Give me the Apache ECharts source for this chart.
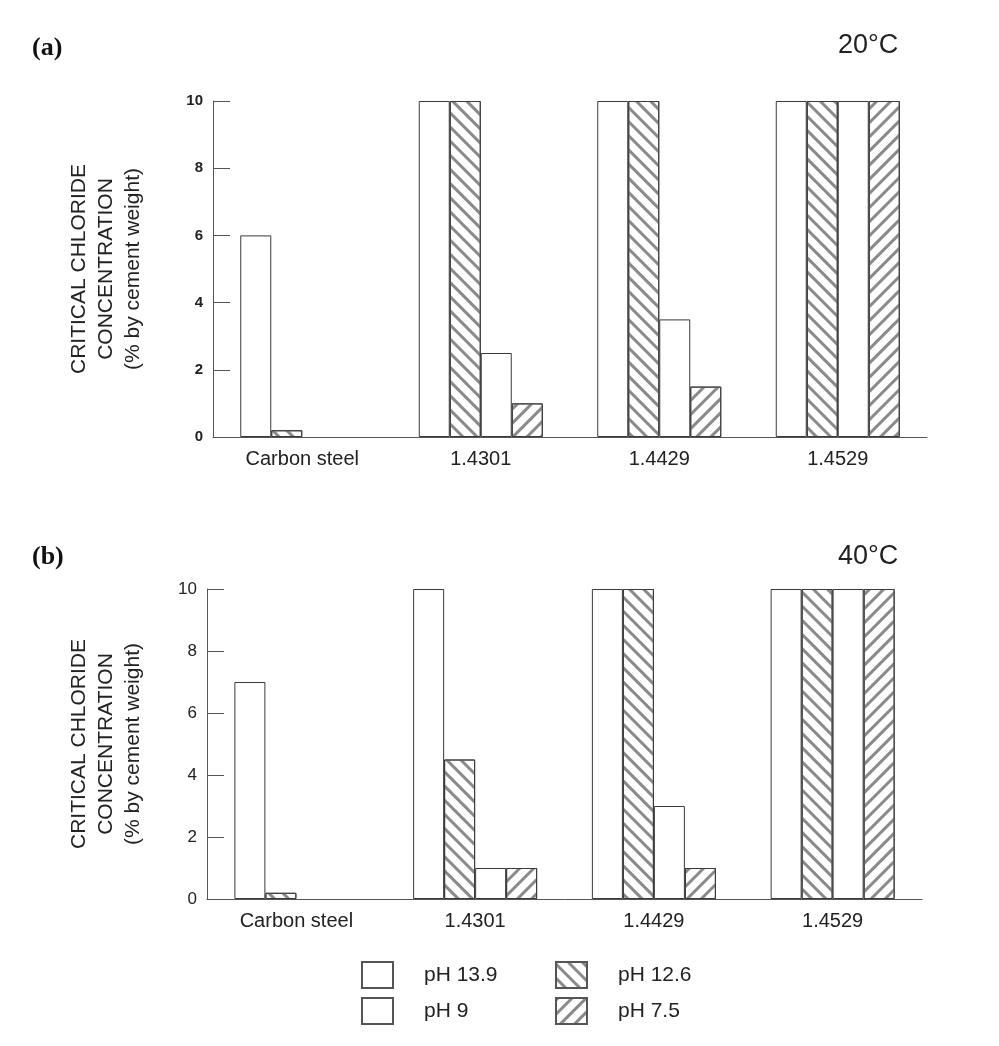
<!DOCTYPE html>
<html>
<head>
<meta charset="utf-8">
<script src="https://cdn.jsdelivr.net/npm/echarts@6/dist/echarts.min.js"></script>
<style>html,body{margin:0;padding:0;background:#fff;}#c{width:999px;height:1046px;}</style>
</head>
<body>
<div id="c"></div>
<script>
const categories = ['Carbon steel', '1.4301', '1.4429', '1.4529'];
const seriesNames = ['pH 13.9', 'pH 12.6', 'pH 9', 'pH 7.5'];
const yTicks = [0, 2, 4, 6, 8, 10];
// (a) 20°C
const a_pH139 = [6, 10, 10, 10];
const a_pH126 = [0.2, 10, 10, 10];
const a_pH9 = [null, 2.5, 3.5, 10];
const a_pH75 = [null, 1, 1.5, 10];
// (b) 40°C
const b_pH139 = [7, 10, 10, 10];
const b_pH126 = [0.2, 4.5, 10, 10];
const b_pH9 = [null, 1, 3, 10];
const b_pH75 = [null, 1, 1, 10];

const yTitle = 'CRITICAL CHLORIDE\nCONCENTRATION\n(% by cement weight)';
const font = '"Liberation Sans", Arial, sans-serif';

const decals = [
  null,
  {symbol: 'rect', symbolSize: 1, dashArrayX: [1, 0], dashArrayY: [2.2, 6.3], rotation: Math.PI / 4, color: '#8a8a8a'},
  null,
  {symbol: 'rect', symbolSize: 1, dashArrayX: [1, 0], dashArrayY: [2.2, 6.3], rotation: -Math.PI / 4, color: '#8a8a8a'}
];

function makeSeries(gridIdx, arrs) {
  return arrs.map((d, i) => ({
    type: 'bar',
    name: seriesNames[i],
    xAxisIndex: gridIdx,
    yAxisIndex: gridIdx,
    data: d,
    barWidth: 31,
    barGap: '0%',
    itemStyle: Object.assign({color: '#fff', borderColor: '#3a3a3a', borderWidth: 1}, decals[i] ? {decal: decals[i]} : {}),
    emphasis: {disabled: true},
    animation: false
  }));
}

function xAxis(gridIdx) {
  return {
    type: 'category', gridIndex: gridIdx, data: categories,
    axisLine: {show: true, lineStyle: {color: '#555', width: 1}},
    axisTick: {show: false},
    axisLabel: {fontFamily: font, fontSize: 20, color: '#222', margin: 12},
    splitLine: {show: false}
  };
}
function yAxis(gridIdx, gap, labelStyle) {
  return {
    type: 'value', gridIndex: gridIdx, min: yTicks[0], max: yTicks[yTicks.length - 1], interval: 2,
    axisLine: {show: true, lineStyle: {color: '#555', width: 1}},
    axisTick: {show: true, inside: true, length: 17, lineStyle: {color: '#555'}},
    axisLabel: Object.assign({fontFamily: font, color: '#222', margin: 10}, labelStyle),
    splitLine: {show: false},
    name: yTitle, nameLocation: 'middle', nameRotate: 90, nameGap: gap,
    nameTextStyle: {fontFamily: font, fontSize: 21, lineHeight: 27, color: '#222', align: 'center'}
  };
}

const chart = echarts.init(document.getElementById('c'), null, {renderer: 'canvas'});
chart.setOption({
  backgroundColor: '#fff',
  animation: false,
  title: [
    {text: '(a)', left: 27, top: 30, textStyle: {fontFamily: '"Liberation Serif", "Times New Roman", serif', fontWeight: 'bold', fontSize: 26, color: '#111'}},
    {text: '20°C', left: 833, top: 27, textStyle: {fontFamily: font, fontWeight: 'normal', fontSize: 27, color: '#222'}},
    {text: '(b)', left: 27, top: 539, textStyle: {fontFamily: '"Liberation Serif", "Times New Roman", serif', fontWeight: 'bold', fontSize: 26, color: '#111'}},
    {text: '40°C', left: 833, top: 538, textStyle: {fontFamily: font, fontWeight: 'normal', fontSize: 27, color: '#222'}}
  ],
  grid: [
    {left: 213, top: 101, width: 714, height: 336},
    {left: 207, top: 589, width: 715, height: 310}
  ],
  xAxis: [xAxis(0), xAxis(1)],
  yAxis: [
    yAxis(0, 66, {fontSize: 15, fontWeight: 'bold'}),
    yAxis(1, 60, {fontSize: 17, fontWeight: 'normal'})
  ],
  legend: [
    {orient: 'vertical', left: 361, top: 961, padding: 0, itemGap: 8, itemWidth: 31, itemHeight: 26, icon: 'rect',
     data: ['pH 13.9', 'pH 9'], selectedMode: false,
     itemStyle: {borderColor: '#555'},
     textStyle: {fontFamily: font, fontSize: 21, color: '#222', padding: [0, 0, 0, 26]}},
    {orient: 'vertical', left: 555, top: 961, padding: 0, itemGap: 8, itemWidth: 31, itemHeight: 26, icon: 'rect',
     data: ['pH 12.6', 'pH 7.5'], selectedMode: false,
     itemStyle: {borderColor: '#555'},
     textStyle: {fontFamily: font, fontSize: 21, color: '#222', padding: [0, 0, 0, 26]}}
  ],
  series: makeSeries(0, [a_pH139, a_pH126, a_pH9, a_pH75]).concat(makeSeries(1, [b_pH139, b_pH126, b_pH9, b_pH75]))
});
</script>
</body>
</html>
